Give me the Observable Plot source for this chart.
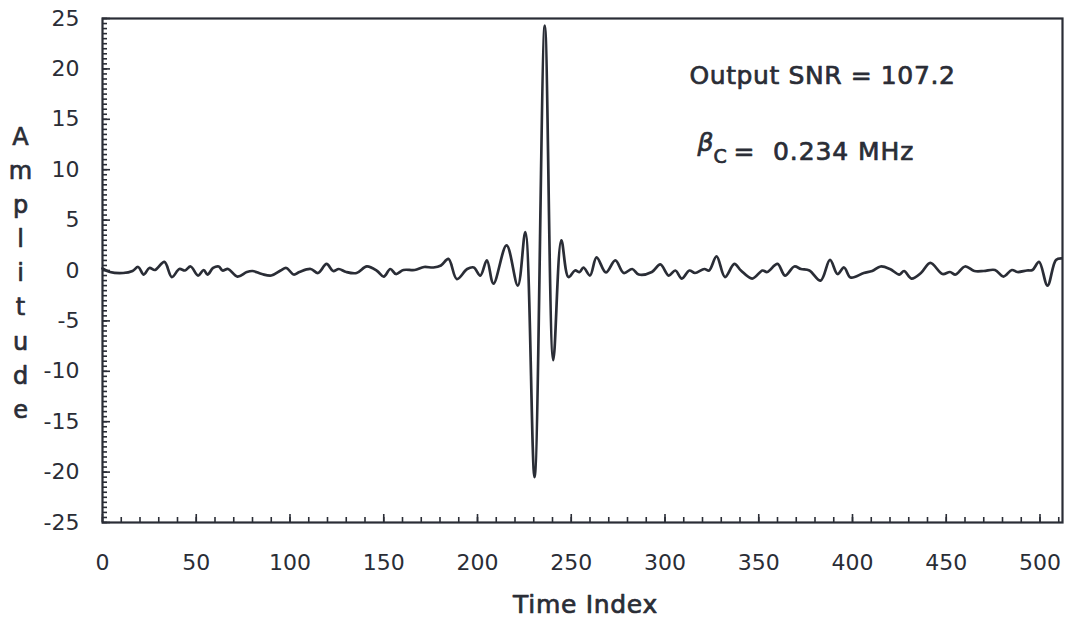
<!DOCTYPE html>
<html><head><meta charset="utf-8">
<script src="https://cdn.jsdelivr.net/npm/d3@7"></script>
<script src="https://cdn.jsdelivr.net/npm/@observablehq/plot@0.6"></script>
<style>
html,body{margin:0;padding:0;background:#fff;}
#chart{width:1073px;height:624px;overflow:hidden;}
</style></head><body><div id="chart"></div>
<script>
// Time index samples
const timeIndex = [
  0,4,11,16,19,22,25,28,33,37,41,44,47,51,54,56,59,62,64,67,72,77,80,85,90,95,98,
  102,105,111,115,119.5,123,126,130,135.5,141,146.5,150,153.5,156.5,160.5,166.5,171.5,176.5,
  180.5,184.5,189,194.5,198,201.5,205,208.5,215.5,221.5,225.5,230.4,235.9,240.4,244.7,248.5,
  252,254.5,256.5,260,263.5,268.5,273.5,278,282.5,286,293,297.5,302,305.5,309,313,316,321,
  323.5,327.5,332,337,340.5,346.5,352,354.5,360,364,369,372.5,377,383,388,392,395.5,399,
  406,410.5,415,420,425,427.5,431.5,436.5,441.5,448,452,455,460,465,470,476,480.5,485,488,
  493,496,499.5,504,508.5,511.5
];
// Amplitude at each sample
const amplitude = [
  0.2,-0.15,-0.25,-0.05,0.35,-0.4,0.25,0.05,0.85,-0.65,0.15,0,0.4,-0.5,0.05,-0.4,0.25,0.4,0,0.15,-0.6,-0.15,-0.05,-0.35,-0.5,0,0.25,
  -0.4,-0.15,0.15,-0.25,0.65,-0.05,0.15,-0.15,-0.25,0.4,-0.05,-0.6,0.15,-0.35,0.05,0.05,0.35,0.3,
  0.5,1.15,-0.85,0.15,0.3,-0.5,1.0,-1.3,2.5,-1.5,3.8,-20.5,24.3,-8.9,3.0,-0.65,
  0,-0.15,0.3,-0.5,1.3,-0.2,1.0,-0.25,0.15,-0.4,-0.15,0.6,-0.5,0,-0.8,0,-0.25,0.15,
  0,1.4,-0.65,0.65,0,-0.8,0,-0.15,0.65,-0.5,0.4,0.15,0,-1.0,1.05,-0.35,0.3,-0.7,
  -0.25,-0.05,0.4,0.15,-0.4,-0.05,-0.8,-0.25,0.75,-0.35,-0.15,-0.4,0.4,-0.05,-0.05,0.05,-0.6,0.05,-0.15,
  0,0.05,0.85,-1.5,1.05,1.2
];
const xTickLabels = [0,50,100,150,200,250,300,350,400,450,500];
const xMinorTicks = d3.range(0, 512, 10);
const yTickLabels = [-25,-20,-15,-10,-5,0,5,10,15,20,25];
const yMinorTicks = d3.range(-25, 25.001, 0.5);
const xTitle = "Time Index";
const yTitle = "Amplitude";
const snrText = "Output SNR = 107.2";
const betaSymbol = "β";
const betaSub = "C";
const betaValue = "=\u00a0 0.234 MHz";

const data = timeIndex.map((t, i) => ({t, a: amplitude[i]}));
const ink = "#2a2d36";
const txt = {fill: ink, stroke: ink, strokeWidth: 0.7};

const chart = Plot.plot({
  width: 1073, height: 624,
  marginLeft: 102, marginRight: 11, marginTop: 18, marginBottom: 102,
  style: {background: "#fff", fontFamily: "'DejaVu Sans', sans-serif", color: ink},
  x: {domain: [0, 512]},
  y: {domain: [-25, 25]},
  marks: [
    Plot.axisX(xMinorTicks, {tickSize: -5, text: null, label: null, stroke: ink, strokeWidth: 1.6}),
    Plot.axisX(xTickLabels, {tickSize: -8, text: null, label: null, stroke: ink, strokeWidth: 1.6}),
    Plot.axisX(xTickLabels, {tickSize: 0, tickPadding: 32, label: null, fontSize: 22, tickFormat: d => String(d), ...txt}),
    Plot.axisY(yMinorTicks, {tickSize: -5, text: null, label: null, stroke: ink, strokeWidth: 1.6}),
    Plot.axisY(yTickLabels, {tickSize: -8, text: null, label: null, stroke: ink, strokeWidth: 1.6}),
    Plot.axisY(yTickLabels, {tickSize: 0, tickPadding: 23, label: null, fontSize: 22, tickFormat: d => String(d), ...txt}),
    Plot.frame({stroke: ink, strokeWidth: 2.2}),
    Plot.line(data, {x: "t", y: "a", stroke: ink, strokeWidth: 2.7, curve: "catmull-rom"}),
    Plot.text([yTitle], {text: d => d.split("").join("\n"), frameAnchor: "left", dx: -82, dy: 0, fontSize: 24, lineHeight: 1.42, textAnchor: "middle", ...txt}),
    Plot.text([xTitle], {text: d => d, frameAnchor: "bottom", dx: 3, dy: 90, fontSize: 25, ...txt}),
    Plot.text([snrText], {text: d => d, frameAnchor: "top-left", dx: 587, dy: 57, fontSize: 25, textAnchor: "start", lineAnchor: "middle", ...txt}),
    Plot.text([betaSymbol], {text: d => d, frameAnchor: "top-left", dx: 595, dy: 124, fontSize: 25, fontStyle: "italic", textAnchor: "start", lineAnchor: "middle", ...txt}),
    Plot.text([betaSub], {text: d => d, frameAnchor: "top-left", dx: 611, dy: 138, fontSize: 19, textAnchor: "start", lineAnchor: "middle", ...txt}),
    Plot.text([betaValue], {text: d => d, frameAnchor: "top-left", dx: 631, dy: 133, fontSize: 25, textAnchor: "start", lineAnchor: "middle", ...txt})
  ]
});
// slightly wider letter spacing on the titles and annotations, as in the original typesetting
const spacing = new Map([[xTitle, "0.7px"], [snrText, "0.6px"], [betaValue, "0.9px"]]);
d3.select(chart).selectAll("text").each(function() {
  const s = spacing.get(this.textContent);
  if (s) this.style.letterSpacing = s;
});
document.getElementById("chart").appendChild(chart);
</script></body></html>
